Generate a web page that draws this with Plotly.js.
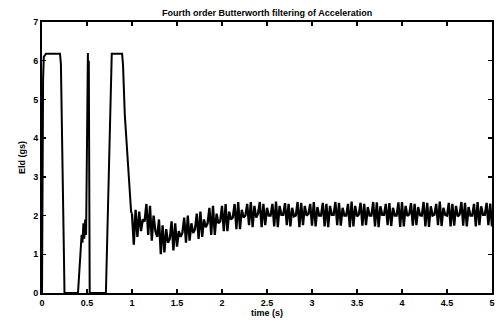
<!DOCTYPE html>
<html>
<head>
<meta charset="utf-8">
<script src="https://cdn.plot.ly/plotly-3.0.1.min.js"></script>
<style>html,body{margin:0;padding:0;background:#fff;}#chart{width:503px;height:320px;}</style>
</head>
<body>
<div id="chart"></div>
<script>
// Transient part (0 - 1.0 s): explicit samples
const transientT = [0, 0.005, 0.012, 0.02, 0.044, 0.2, 0.21, 0.244, 0.25,
  0.40, 0.44, 0.45, 0.46, 0.47, 0.48, 0.49, 0.50, 0.51, 0.515, 0.52, 0.53,
  0.71, 0.775, 0.89, 0.90, 0.92, 0.99, 1.0];
const transientY = [0, 3.0, 5.5, 6.1, 6.18, 6.18, 5.92, 0.93, 0,
  0, 1.5, 1.3, 1.8, 1.4, 1.9, 1.5, 4.5, 6.2, 4.0, 6.0, 0,
  0, 6.18, 6.18, 5.9, 4.6, 2.1, 2.05];

// Oscillating part, sampled every 0.02 s starting at 1.0 s
const steadyStart = 1.0;
const steadyStep = 0.02;
const steadyY = [
  2.05, 1.25, 2.15, 1.45, 2.1, 1.6, 1.9,
  1.85, 2.3, 1.5, 2.25, 1.35, 2.0, 1.6,
  1.45, 1.9, 1.0, 1.75, 1.05, 1.65, 1.3,
  1.4, 1.85, 1.1, 1.8, 1.2, 1.6, 1.45,
  1.55, 1.95, 1.3, 2.0, 1.35, 1.8, 1.55,
  1.65, 2.05, 1.4, 2.1, 1.45, 1.9, 1.7,
  1.8, 2.2, 1.5, 2.25, 1.5, 2.05, 1.8,
  1.85, 2.25, 1.6, 2.3, 1.6, 2.1, 1.9,
  1.95, 2.3, 1.65, 2.35, 1.65, 2.15, 1.95,
  2.0, 2.3, 1.75, 2.35, 1.7, 2.25, 1.95,
  2.05, 2.35, 1.7, 2.3, 1.75, 2.2, 2.0,
  2.0, 2.3, 1.72, 2.36, 1.7, 2.25, 2.02,
  2.02, 2.32, 1.75, 2.3, 1.72, 2.2, 1.98,
  2.0, 2.35, 1.7, 2.33, 1.75, 2.25, 2.0,
  2.04, 2.3, 1.74, 2.35, 1.72, 2.22, 2.0,
  2.0, 2.33, 1.72, 2.3, 1.7, 2.25, 2.02,
  2.02, 2.35, 1.75, 2.33, 1.74, 2.2, 2.0,
  2.0, 2.3, 1.7, 2.36, 1.72, 2.25, 1.98,
  2.03, 2.33, 1.74, 2.3, 1.75, 2.22, 2.0,
  2.0, 2.35, 1.72, 2.34, 1.7, 2.24, 2.02,
  2.02, 2.3, 1.75, 2.32, 1.73, 2.2, 2.0,
  2.0, 2.34, 1.71, 2.35, 1.72, 2.25, 1.99,
  2.03, 2.32, 1.74, 2.3, 1.75, 2.22, 2.01,
  2.0, 2.35, 1.72, 2.33, 1.71, 2.24, 2.0,
  2.02, 2.3, 1.75, 2.36, 1.73, 2.2, 2.02,
  2.0, 2.33, 1.72, 2.3, 1.74, 2.25, 1.98,
  2.03, 2.35, 1.74, 2.33, 1.72, 2.22, 2.0,
  2.0, 2.3, 1.72, 2.35, 1.75, 2.24, 2.02,
  2.02, 2.33, 1.75, 2.31, 1.72, 2.2, 2.0
];

const xTickVals = [0, 0.5, 1, 1.5, 2, 2.5, 3, 3.5, 4, 4.5, 5];
const xTickText = ['0', '0.5', '1', '1.5', '2', '2.5', '3', '3.5', '4', '4.5', '5'];
const yTickVals = [0, 1, 2, 3, 4, 5, 6, 7];

const titleText = 'Fourth order Butterworth filtering of Acceleration';
const xTitle = 'time (s)';
const yTitle = 'Eld (gs)';

const lineStyle = {color: '#000', width: 2};
const traces = [
  {x: transientT, y: transientY, mode: 'lines', line: lineStyle, hoverinfo: 'skip'},
  {y: steadyY, x0: steadyStart, dx: steadyStep, mode: 'lines', line: {color: '#000', width: 2.3}, hoverinfo: 'skip'}
];

const font = {family: 'Liberation Sans, Arial, sans-serif', size: 9, color: '#000', weight: 'bold'};
const axisCommon = {
  showgrid: false, zeroline: false, showline: true, linecolor: '#000', linewidth: 2,
  mirror: 'allticks', ticks: 'inside', ticklen: 4, tickcolor: '#000', tickwidth: 1.5,
  tickfont: font
};

const layout = {
  width: 503, height: 320,
  margin: {l: 42, r: 11, t: 22, b: 27},
  paper_bgcolor: '#fff', plot_bgcolor: '#fff',
  showlegend: false,
  title: {text: titleText, font: font, x: 0.531, xanchor: 'center', y: 0.96, yanchor: 'middle'},
  xaxis: Object.assign({}, axisCommon, {
    range: [0, 5], tickvals: xTickVals, ticktext: xTickText,
    title: {text: xTitle, font: font, standoff: 0}
  }),
  yaxis: Object.assign({}, axisCommon, {
    range: [0, 7], tickvals: yTickVals,
    title: {text: yTitle, font: font, standoff: 6}
  })
};

Plotly.newPlot('chart', traces, layout, {displayModeBar: false, staticPlot: true});
</script>
</body>
</html>
